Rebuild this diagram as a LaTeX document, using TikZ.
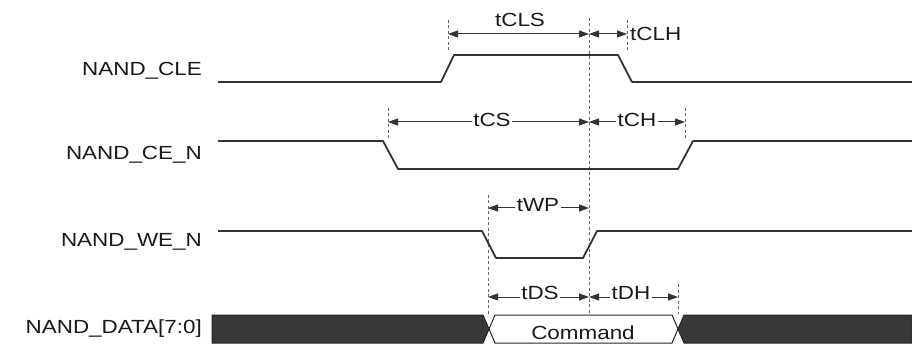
\documentclass[tikz,border=0pt]{standalone}
\usepackage{fontspec}
\setmainfont{Liberation Sans}
\usepackage{graphicx}
\usetikzlibrary{arrows.meta}
\newcommand\hstr[1]{\scalebox{1.18}[1]{#1}}
\begin{document}
\begin{tikzpicture}[x=1pt,y=-1pt,
  sig/.style={line width=1.8pt,draw=black!80,line join=round},
  dim/.style={line width=1pt,draw=black!80,{Triangle[length=10pt,width=7pt]}-{Triangle[length=10pt,width=7pt]}},
  tickln/.style={line width=0.9pt,draw=black!60,dash pattern=on 3pt off 2.5pt},
  lbl/.style={font=\fontsize{19}{22}\selectfont,text=black!90,inner sep=0pt},
  tlbl/.style={lbl,fill=white,inner xsep=1.5pt,inner ysep=0pt},
  busdark/.style={fill=black!78,draw=black!85,line width=1pt},
  buscmd/.style={fill=white,draw=black!85,line width=1pt},
]
\useasboundingbox (0,0) rectangle (912,347);

% signal labels
\node[lbl,anchor=east] (lcle) at (202,71) {\hstr{NAND\_CLE}};
\node[lbl,anchor=east] (lce) at (202,155) {\hstr{NAND\_CE\_N}};
\node[lbl,anchor=east] (lwe) at (202,242) {\hstr{NAND\_WE\_N}};
\node[lbl,anchor=east] (ldata) at (202,329) {\hstr{NAND\_DATA[7:0]}};

% tick / reference lines
\coordinate (m1) at (589,18);  \coordinate (m2) at (589,315);
\coordinate (a1) at (448,20);  \coordinate (a2) at (448,50);
\coordinate (b1) at (627,20);  \coordinate (b2) at (627,50);
\coordinate (c1) at (388,108); \coordinate (c2) at (388,138);
\coordinate (d1) at (685,108); \coordinate (d2) at (685,138);
\coordinate (e1) at (488,195); \coordinate (e2) at (488,315);
\coordinate (f1) at (678,284); \coordinate (f2) at (678,314);
\draw[tickln] (m1) -- (m2);
\draw[tickln] (a1) -- (a2);
\draw[tickln] (b1) -- (b2);
\draw[tickln] (c1) -- (c2);
\draw[tickln] (d1) -- (d2);
\draw[tickln] (e1) -- (e2);
\draw[tickln] (f1) -- (f2);

% signals
\draw[sig] (218,82) -- (441,82) -- (454,55) -- (618,55) -- (632,82) -- (912,82);
\draw[sig] (218,141) -- (383,141) -- (398,169) -- (678,169) -- (693,141) -- (912,141);
\draw[sig] (218,231) -- (482,231) -- (496,258) -- (583,258) -- (597,231) -- (912,231);

% data bus
\draw[busdark] (212,315) -- (483,315) -- (489,329) -- (483,343) -- (212,343) -- cycle;
\draw[buscmd] (489,329) -- (495,315) -- (672,315) -- (678,329) -- (672,343) -- (495,343) -- cycle;
\draw[busdark] (678,329) -- (684,315) -- (912,315) -- (912,343) -- (684,343) -- cycle;
\node[lbl] (cmd) at (583,333) {\hstr{Command}};

% dimension lines
\coordinate (tclsL) at (448,34); \coordinate (tclsR) at (589,34);
\coordinate (tclhR) at (627,34);
\coordinate (tcsL) at (388,122); \coordinate (tcsR) at (589,122);
\coordinate (tchR) at (685,122);
\coordinate (twpL) at (488,208); \coordinate (twpR) at (589,208);
\coordinate (tdsL) at (488,297); \coordinate (tdsR) at (589,297);
\coordinate (tdhR) at (678,297);
\draw[dim] (tclsL) -- (tclsR);
\draw[dim] (tclsR) -- (tclhR);
\draw[dim] (tcsL) -- (tcsR);
\draw[dim] (tcsR) -- (tchR);
\draw[dim] (twpL) -- (twpR);
\draw[dim] (tdsL) -- (tdsR);
\draw[dim] (tdsR) -- (tdhR);

% timing labels
\node[lbl] (ttcls) at (520,20) {\hstr{tCLS}};
\node[lbl,anchor=west] (ttclh) at (630,34) {\hstr{tCLH}};
\node[tlbl] (ttcs) at (492,120) {\hstr{tCS}};
\node[tlbl] (ttch) at (637,120) {\hstr{tCH}};
\node[tlbl] (ttwp) at (538,205) {\hstr{tWP}};
\node[tlbl] (ttds) at (540,293) {\hstr{tDS}};
\node[tlbl] (ttdh) at (631,293) {\hstr{tDH}};
\end{tikzpicture}
\end{document}
